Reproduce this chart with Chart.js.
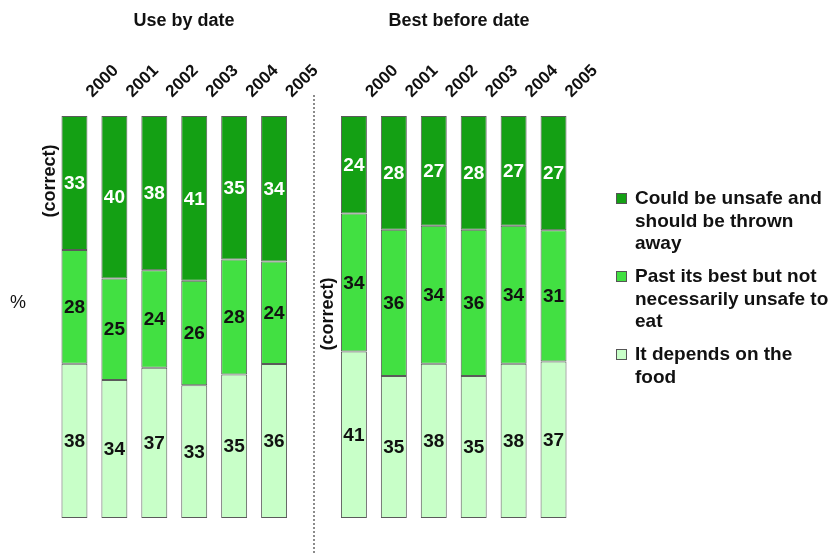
<!DOCTYPE html>
<html>
<head>
<meta charset="utf-8">
<script src="https://cdn.jsdelivr.net/npm/chart.js@4"></script>
<style>
  body { margin: 0; background: #fff; }
  .wrap { position: relative; width: 833px; height: 555px; }
  .legend {
    position: absolute; left: 616px; top: 187px;
    font: bold 19px "Liberation Sans", Arial, sans-serif; color: #111;
    line-height: 22.5px;
  }
  .legend .item { display: flex; align-items: flex-start; margin-bottom: 10.5px; }
  .legend .box { width: 9px; height: 9px; border: 1px solid #555; margin-top: 6px; margin-right: 8px; flex: none; }
</style>
</head>
<body>
<div class="wrap">
  <canvas id="foodChart" width="833" height="555"></canvas>
  <div class="legend">
    <div class="item"><span class="box" style="background:#14a014"></span><span>Could be unsafe and<br>should be thrown<br>away</span></div>
    <div class="item"><span class="box" style="background:#42e042"></span><span>Past its best but not<br>necessarily unsafe to<br>eat</span></div>
    <div class="item"><span class="box" style="background:#c8ffc8"></span><span>It depends on the<br>food</span></div>
  </div>
</div>
<script>
// Years for each group; an empty slot separates the two groups
const years = ['2000', '2001', '2002', '2003', '2004', '2005'];
const labels = [...years, '', ...years];

// Use by date (% answering each option)
const useByUnsafe = [33, 40, 38, 41, 35, 34];
const useByPast = [28, 25, 24, 26, 28, 24];
const useByDepends = [38, 34, 37, 33, 35, 36];

// Best before date
const bestBeforeUnsafe = [24, 28, 27, 28, 27, 27];
const bestBeforePast = [34, 36, 34, 36, 34, 31];
const bestBeforeDepends = [41, 35, 38, 35, 38, 37];

const groupTitles = ['Use by date', 'Best before date'];

const FONT = '"Liberation Sans", Arial, sans-serif';

// join both groups with a gap between them
const joined = (a, b) => [...a, null, ...b];
const unsafe = joined(useByUnsafe, bestBeforeUnsafe);
const past = joined(useByPast, bestBeforePast);
const depends = joined(useByDepends, bestBeforeDepends);

// each bar is scaled to fill 100%
const totals = unsafe.map((v, i) => v === null ? null : v + past[i] + depends[i]);
const share = arr => arr.map((v, i) => v === null ? null : v / totals[i] * 100);

const series = [
    { label: 'It depends on the food', raw: depends, color: '#c8ffc8', text: '#111' },
    { label: 'Past its best but not necessarily unsafe to eat', raw: past, color: '#42e042', text: '#111' },
    { label: 'Could be unsafe and should be thrown away', raw: unsafe, color: '#14a014', text: '#fff' }
];

// value labels inside each segment
const valueLabels = {
    id: 'valueLabels',
    afterDatasetsDraw(chart) {
        const ctx = chart.ctx;
        ctx.save();
        ctx.font = 'bold 19px ' + FONT;
        ctx.textAlign = 'center';
        ctx.textBaseline = 'middle';
        chart.data.datasets.forEach((ds, di) => {
            chart.getDatasetMeta(di).data.forEach((bar, i) => {
                const raw = series[di].raw[i];
                if (raw === null) return;
                ctx.fillStyle = series[di].text;
                ctx.fillText(raw, bar.x, (bar.y + bar.base) / 2 + 1);
            });
        });
        ctx.restore();
    }
};

// rotated years, titles, divider and side notes
const decorations = {
    id: 'decorations',
    afterDraw(chart) {
        const ctx = chart.ctx;
        const x = chart.scales.x;
        ctx.save();
        ctx.fillStyle = '#111';

        ctx.font = 'bold 17px ' + FONT;
        ctx.textAlign = 'left';
        ctx.textBaseline = 'alphabetic';
        labels.forEach((lab, i) => {
            if (!lab) return;
            ctx.save();
            ctx.translate(x.getPixelForValue(i) + 18, 98);
            ctx.rotate(-Math.PI / 4);
            ctx.fillText(lab, 0, 0);
            ctx.restore();
        });

        ctx.font = 'bold 18px ' + FONT;
        ctx.textAlign = 'center';
        ctx.fillText(groupTitles[0], 184, 26);
        ctx.fillText(groupTitles[1], 459, 26);

        // divider between the groups
        const mid = x.getPixelForValue(6);
        ctx.strokeStyle = '#666';
        ctx.lineWidth = 1.5;
        ctx.setLineDash([2, 2]);
        ctx.beginPath();
        ctx.moveTo(mid, 95);
        ctx.lineTo(mid, 555);
        ctx.stroke();
        ctx.setLineDash([]);

        ctx.font = '18px ' + FONT;
        ctx.textBaseline = 'middle';
        ctx.fillText('%', 18, 303);

        ctx.font = 'bold 18px ' + FONT;
        [[50, 181], [328, 314]].forEach(([px, py]) => {
            ctx.save();
            ctx.translate(px, py);
            ctx.rotate(-Math.PI / 2);
            ctx.fillText('(correct)', 0, 0);
            ctx.restore();
        });
        ctx.restore();
    }
};

new Chart(document.getElementById('foodChart'), {
    type: 'bar',
    data: {
        labels: labels,
        datasets: series.map(s => ({
            label: s.label,
            data: share(s.raw),
            backgroundColor: s.color,
            borderColor: '#5a5a5a',
            borderWidth: 1,
            borderSkipped: false,
            barPercentage: 0.65,
            categoryPercentage: 1
        }))
    },
    options: {
        responsive: false,
        animation: false,
        layout: { padding: { left: 54.5, right: 259.5, top: 116, bottom: 37 } },
        scales: {
            x: { stacked: true, display: false },
            y: { stacked: true, display: false, min: 0, max: 100 }
        },
        plugins: {
            legend: { display: false },
            tooltip: { enabled: false }
        }
    },
    plugins: [valueLabels, decorations]
});
</script>
</body>
</html>
